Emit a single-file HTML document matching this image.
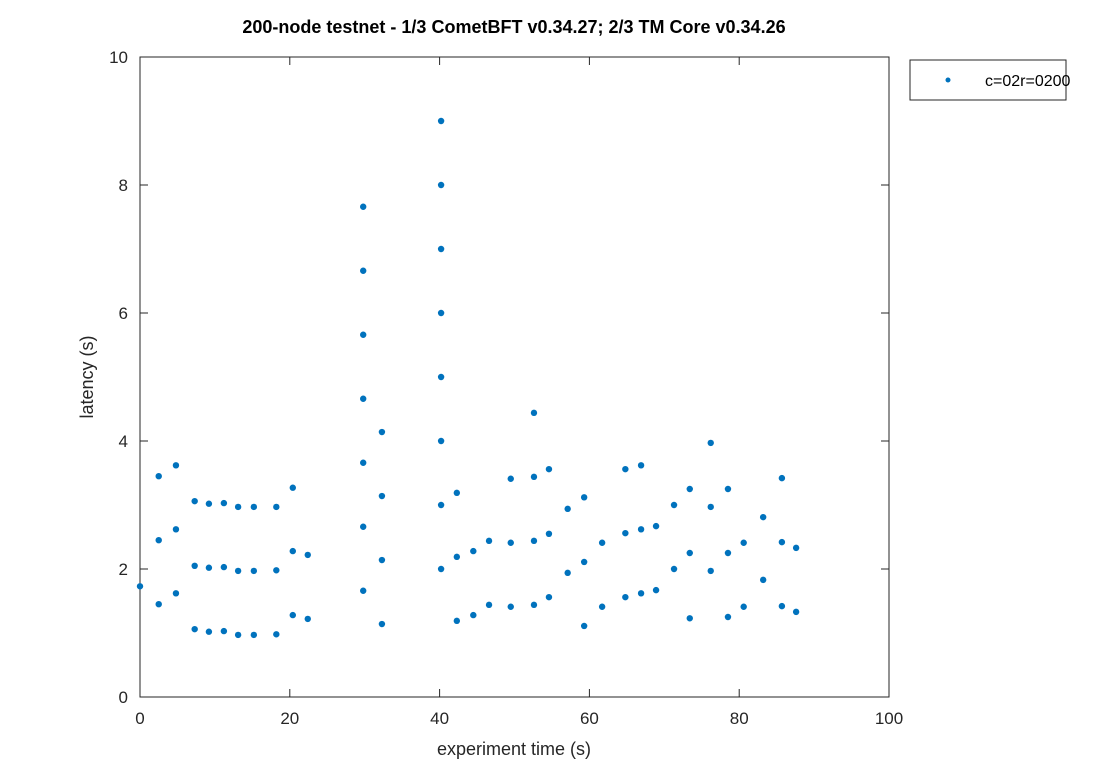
<!DOCTYPE html>
<html><head><meta charset="utf-8"><style>
html,body{margin:0;padding:0;background:#fff;}
svg{display:block;font-family:"Liberation Sans",sans-serif;}
</style></head><body>
<svg id="chart" width="1116" height="778" viewBox="0 0 1116 778">
<rect x="0" y="0" width="1116" height="778" fill="#fff"/>
<text x="514" y="33" text-anchor="middle" font-size="18" font-weight="bold" fill="#000">200-node testnet - 1/3 CometBFT v0.34.27; 2/3 TM Core v0.34.26</text>
<rect x="140" y="57" width="749" height="640" fill="#fff" stroke="#262626" stroke-width="1"/>
<g id="xticks"></g>
<g id="yticks"></g>
<g id="points"></g>
<text x="514" y="755" text-anchor="middle" font-size="18" fill="#262626">experiment time (s)</text>
<text transform="translate(93,377) rotate(-90)" text-anchor="middle" font-size="18" fill="#262626">latency (s)</text>
<g>
<rect x="910" y="60" width="156" height="40" fill="#fff" stroke="#262626"/>
<circle cx="948" cy="80" r="2.5" fill="#0072bd"/>
<text x="985" y="86" font-size="16" fill="#000">c=02r=0200</text>
</g>
</svg>
<script>
const xTicks=[0,20,40,60,80,100];
const yTicks=[0,2,4,6,8,10];
const xs=[0,2.5,2.5,2.5,4.8,4.8,4.8,7.3,7.3,7.3,9.2,9.2,9.2,11.2,11.2,11.2,13.1,13.1,13.1,15.2,15.2,15.2,18.2,18.2,18.2,20.4,20.4,20.4,22.4,22.4,
29.8,29.8,29.8,29.8,29.8,29.8,29.8,32.3,32.3,32.3,32.3,40.2,40.2,40.2,40.2,40.2,40.2,40.2,40.2,42.3,42.3,42.3,44.5,44.5,46.6,46.6,49.5,49.5,49.5,
52.6,52.6,52.6,52.6,54.6,54.6,54.6,57.1,57.1,59.3,59.3,59.3,61.7,61.7,64.8,64.8,64.8,66.9,66.9,66.9,68.9,68.9,71.3,71.3,73.4,73.4,73.4,
76.2,76.2,76.2,78.5,78.5,78.5,80.6,80.6,83.2,83.2,85.7,85.7,85.7,87.6,87.6];
const ys=[1.73,3.45,2.45,1.45,3.62,2.62,1.62,3.06,2.05,1.06,3.02,2.02,1.02,3.03,2.03,1.03,2.97,1.97,0.97,2.97,1.97,0.97,2.97,1.98,0.98,3.27,2.28,1.28,2.22,1.22,
7.66,6.66,5.66,4.66,3.66,2.66,1.66,4.14,3.14,2.14,1.14,9,8,7,6,5,4,3,2,3.19,2.19,1.19,2.28,1.28,2.44,1.44,3.41,2.41,1.41,
4.44,3.44,2.44,1.44,3.56,2.55,1.56,2.94,1.94,3.12,2.11,1.11,2.41,1.41,3.56,2.56,1.56,3.62,2.62,1.62,2.67,1.67,3.0,2.0,3.25,2.25,1.23,
3.97,2.97,1.97,3.25,2.25,1.25,2.41,1.41,2.81,1.83,3.42,2.42,1.42,2.33,1.33];
const X0=140,X1=889,Y0=697,Y1=57;
const sx=v=>X0+(v-0)/100*(X1-X0);
const sy=v=>Y0-(v-0)/10*(Y0-Y1);
const NS="http://www.w3.org/2000/svg";
function mk(t,a){const e=document.createElementNS(NS,t);for(const k in a)e.setAttribute(k,a[k]);return e;}
const gx=document.getElementById('xticks'),gy=document.getElementById('yticks'),gp=document.getElementById('points');
xTicks.forEach(v=>{const x=sx(v);
const l1=mk('line',{x1:x,x2:x,y1:Y0,y2:Y0-8,stroke:'#262626'});


gx.appendChild(l1);
const l2=mk('line',{x1:x,x2:x,y1:Y1,y2:Y1+8,stroke:'#262626'});


gx.appendChild(l2);
const t=mk('text',{x:x,y:Y0+27,'text-anchor':'middle','font-size':17,fill:'#262626'});


t.textContent=v;gx.appendChild(t);});
yTicks.forEach(v=>{const y=sy(v);
const l1=mk('line',{x1:X0,x2:X0+8,y1:y,y2:y,stroke:'#262626'});


gy.appendChild(l1);
const l2=mk('line',{x1:X1,x2:X1-8,y1:y,y2:y,stroke:'#262626'});


gy.appendChild(l2);
const t=mk('text',{x:X0-12,y:y+6,'text-anchor':'end','font-size':17,fill:'#262626'});


t.textContent=v;gy.appendChild(t);});
xs.forEach((v,i)=>{const c=mk('circle',{cx:sx(v),cy:sy(ys[i]),r:3.2,fill:'#0072bd'});


gp.appendChild(c);});
</script>
</body></html>
